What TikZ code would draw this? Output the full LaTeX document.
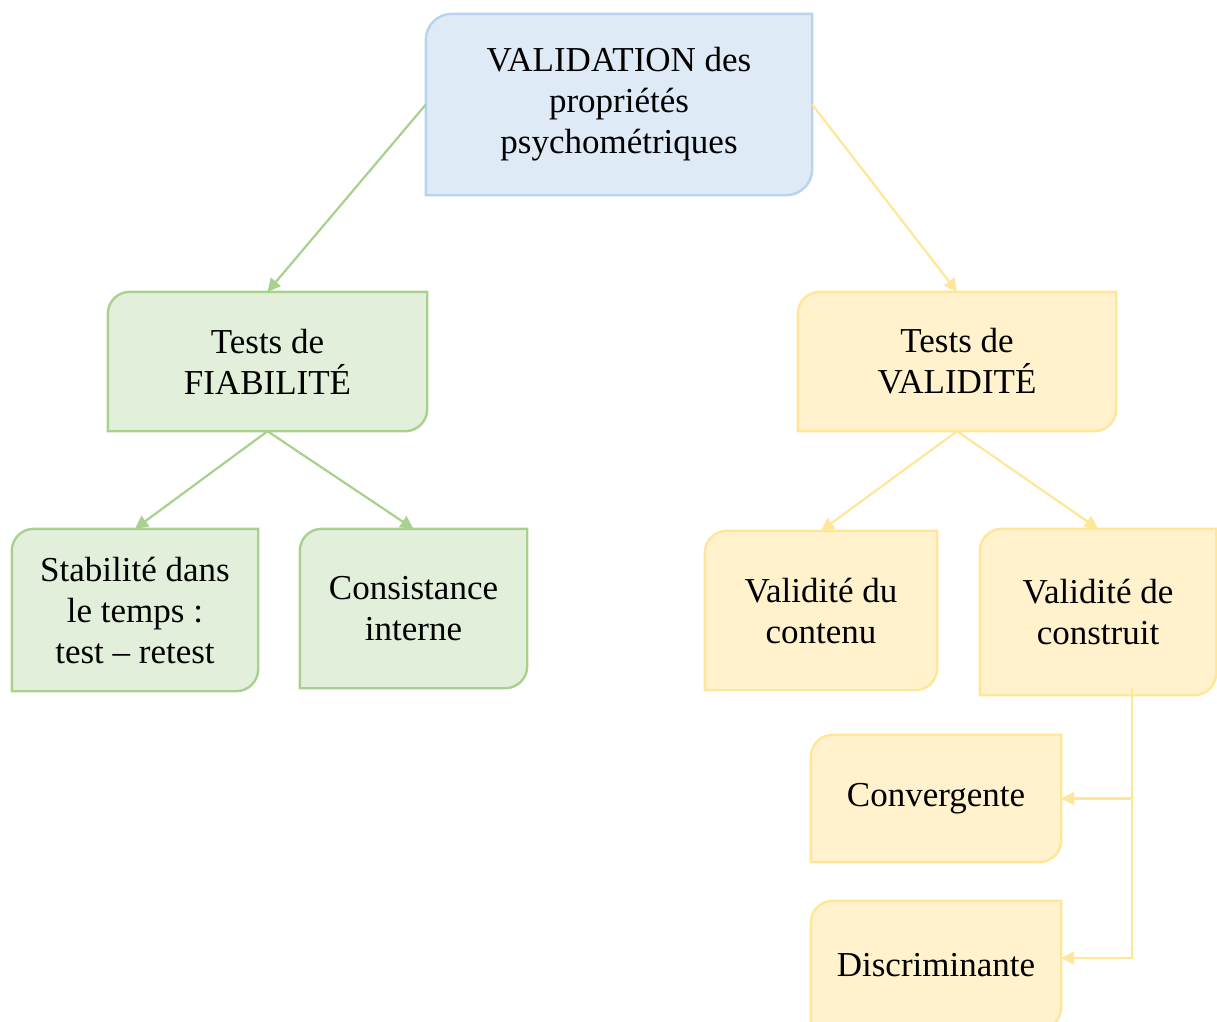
\documentclass[tikz,border=0pt]{standalone}
\usepackage{fontspec}
\setmainfont{Liberation Serif}
\usetikzlibrary{arrows.meta,backgrounds}
\definecolor{bfill}{HTML}{DEEAF6}
\definecolor{bline}{HTML}{B8D3EC}
\definecolor{gfill}{HTML}{E2EFDA}
\definecolor{gline}{HTML}{A9D18E}
\definecolor{yfill}{HTML}{FFF2CC}
\definecolor{yline}{HTML}{FFE699}
\newcommand\boxoutline[3]{%
  \path[#3] (#1.south west) -- ([yshift=-#2]#1.north west)
    arc[start angle=180,end angle=90,radius=#2] -- (#1.north east)
    -- ([yshift=#2]#1.south east)
    arc[start angle=0,end angle=-90,radius=#2] -- cycle;}
\begin{document}
\begin{tikzpicture}[x=1pt,y=-1pt,
  boxnode/.style={inner sep=0pt, align=center, text=black,
    font=\fontsize{35}{41}\selectfont},
  blueshape/.style={fill=bfill, draw=bline, line width=2.4pt},
  greenshape/.style={fill=gfill, draw=gline, line width=2.4pt},
  yellowshape/.style={fill=yfill, draw=yline, line width=2.4pt},
  garrow/.style={draw=gline, line width=2.2pt, -{Triangle[length=13pt,width=13pt]}},
  yarrow/.style={draw=yline, line width=2.2pt, -{Triangle[length=13pt,width=13pt]}}]
\useasboundingbox (0,0) rectangle (1217,1021);

\node[boxnode, minimum width=386pt, minimum height=181pt] (top) at (619,104.5)
  {VALIDATION des\\propriétés\\psychométriques};
\node[boxnode, minimum width=319pt, minimum height=139pt] (fiab) at (267.5,361.5)
  {Tests de\\FIABILITÉ};
\node[boxnode, minimum width=246pt, minimum height=162pt] (stab) at (135,610)
  {Stabilité dans\\le temps :\\test – retest};
\node[boxnode, minimum width=227pt, minimum height=159pt] (cons) at (413.5,608.5)
  {Consistance\\interne};
\node[boxnode, minimum width=318pt, minimum height=139pt] (valid) at (957,361.5)
  {Tests de\\VALIDITÉ};
\node[boxnode, minimum width=232pt, minimum height=159pt] (cont) at (821,610.5)
  {Validité du\\contenu};
\node[boxnode, minimum width=236pt, minimum height=166pt] (constr) at (1098,612)
  {Validité de\\construit};
\node[boxnode, minimum width=250pt, minimum height=127pt] (conv) at (936,798.5)
  {Convergente};
\node[boxnode, minimum width=250pt, minimum height=128pt] (disc) at (936,965)
  {Discriminante};

\begin{scope}[on background layer]
  \boxoutline{top}{26pt}{blueshape}
  \boxoutline{fiab}{22pt}{greenshape}
  \boxoutline{stab}{22pt}{greenshape}
  \boxoutline{cons}{22pt}{greenshape}
  \boxoutline{valid}{22pt}{yellowshape}
  \boxoutline{cont}{22pt}{yellowshape}
  \boxoutline{constr}{22pt}{yellowshape}
  \boxoutline{conv}{22pt}{yellowshape}
  \boxoutline{disc}{22pt}{yellowshape}
\end{scope}

\draw[garrow] (top.west) -- (fiab.north);
\draw[yarrow] (top.east) -- (valid.north);
\draw[garrow] (fiab.south) -- (stab.north);
\draw[garrow] (fiab.south) -- (cons.north);
\draw[yarrow] (valid.south) -- (cont.north);
\draw[yarrow] (valid.south) -- (constr.north);

\coordinate (br) at (1132,688);
\draw[yarrow] (br) |- (conv.east);
\draw[yarrow] (br) |- ([yshift=7pt]disc.east);
\end{tikzpicture}
\end{document}
